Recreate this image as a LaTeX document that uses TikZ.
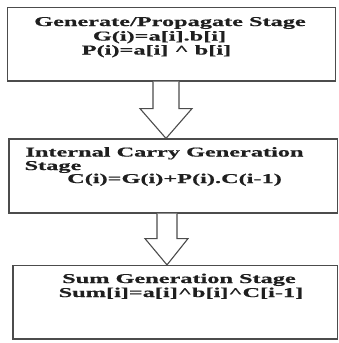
\documentclass[tikz,border=0pt]{standalone}
\usepackage{fontspec}
\usetikzlibrary{calc}
\newfontfamily\tfont[FakeStretch=1.8,FakeBold=0.6]{Liberation Serif Bold}
\definecolor{linec}{gray}{0.3}
\definecolor{textc}{gray}{0.12}
\begin{document}
\begin{tikzpicture}[x=1pt,y=-1pt,
  box/.style={draw=linec,line width=1.2pt,fill=white,inner sep=0pt},
  blockarrow/.style={draw=linec,line width=1.1pt,fill=white,line join=miter},
  txt/.style={font=\tfont\fontsize{13.5}{14}\selectfont,text=textc,inner sep=0pt,anchor=base}]
\useasboundingbox (0,0) rectangle (338,343);
% boxes
\node[box,minimum width=328pt,minimum height=73.5pt] (b1) at (171.5,44.25) {};
\node[box,minimum width=328.5pt,minimum height=74pt] (b2) at (173.25,176) {};
\node[box,minimum width=324.5pt,minimum height=73.5pt] (b3) at (175.25,302.25) {};
% arrows
\draw[blockarrow] ([xshift=-18.5pt]b1.south) -- ([xshift=-18.5pt,yshift=-27pt]b1.south)
  -- ([xshift=-31.5pt,yshift=-27pt]b1.south) -- ([xshift=-7.25pt]b2.north)
  -- ([xshift=20.5pt,yshift=-27pt]b1.south) -- ([xshift=7.5pt,yshift=-27pt]b1.south)
  -- ([xshift=7.5pt]b1.south);
\draw[blockarrow] ([xshift=-16.25pt]b2.south) -- ([xshift=-16.25pt,yshift=-25pt]b2.south)
  -- ([xshift=-28.25pt,yshift=-25pt]b2.south) -- ([xshift=-8.25pt]b3.north)
  -- ([xshift=14.75pt,yshift=-25pt]b2.south) -- ([xshift=3.75pt,yshift=-25pt]b2.south)
  -- ([xshift=3.75pt]b2.south);
% texts
\node[txt] (t11) at (170,26) {Generate/Propagate Stage};
\node[txt] (t12) at (159.5,40.5) {G(i)=a[i].b[i]};
\node[txt] (t13) at (156.5,54.5) {P(i)=a[i] \textasciicircum\ b[i]};
\node[txt] (t21) at (164.5,156.5) {Internal Carry Generation};
\node[txt] (t22) at (53,170) {Stage};
\node[txt] (t23) at (174.5,183) {C(i)=G(i)+P(i).C(i-1)};
\node[txt] (t31) at (179,283) {Sum Generation Stage};
\node[txt] (t32) at (181,297) {Sum[i]=a[i]\textasciicircum b[i]\textasciicircum C[i-1]};
\end{tikzpicture}
\end{document}
